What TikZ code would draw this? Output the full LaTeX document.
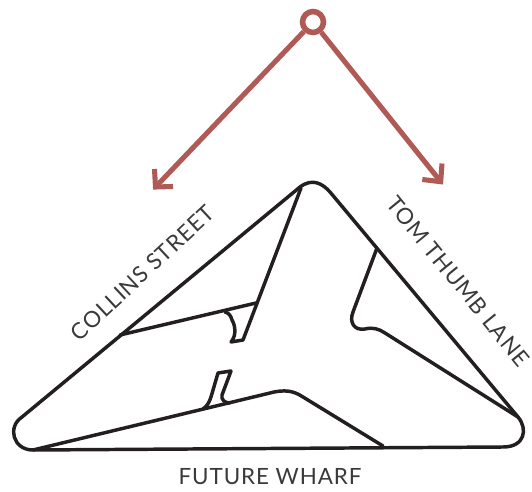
\documentclass[tikz,border=0pt]{standalone}
\usepackage{fontspec}
\setmainfont{Lato}[LetterSpace=4]
\definecolor{siteline}{HTML}{231F20}
\definecolor{windred}{HTML}{B05A56}
\definecolor{labelgrey}{HTML}{3A3A3C}
\tikzset{
  siteedge/.style={draw=siteline,line width=2.6pt,line join=round,line cap=round},
  windarrow/.style={draw=windred,line width=3.8pt,line join=miter},
  windhub/.style={circle,draw=windred,line width=4.2pt,fill=white,minimum size=15.7pt,inner sep=0pt},
  streetlabel/.style={text=labelgrey,font=\fontsize{16.8pt}{20pt}\selectfont,inner sep=0pt},
}
\begin{document}
\begin{tikzpicture}[x=0.75pt,y=0.75pt,yscale=-1,xscale=1]
\useasboundingbox (0,0) rectangle (532,492);
% wind directions
\node [windhub] (hub) at (313,22) {};
\coordinate (windleft) at (155.5,187);
\coordinate (windright) at (440.7,181.7);
\draw [windarrow] (hub) -- (windleft);
\draw [windarrow] (hub) -- (windright);
\draw [windarrow] (154.5,169) -- (windleft) -- (173,186.5);
\draw [windarrow] (442,163.5) -- (windright) -- (422.3,179.5);
% site outline
\draw [siteedge] (300,187) .. controls (312,178) and (322,183) .. (330,192) -- (518,417) .. controls (528,429) and (525,447) .. (503,447) -- (33,450) .. controls (13,450) and (7,427) .. (22,417) -- cycle;
% left lot
\draw [siteedge] (301,188) -- (243,340) -- (231,342) .. controls (237,335) and (235,325) .. (232,320) .. controls (231,316) and (229,313) .. (225,312);
\draw [siteedge] (120,335) -- (256,303);
% right lot
\draw [siteedge] (377,248) -- (353,312) .. controls (349,322) and (354,331) .. (365,329) .. controls (373,327) and (379,329) .. (385,333) -- (518,417);
% lower lot
\draw [siteedge] (33,450) -- (270,393) .. controls (285,389) and (294,391) .. (303,397) -- (383,446);
\draw [siteedge] (203,409) .. controls (207,406) and (209,403) .. (211,397) -- (218,373) -- (231,371) -- (222,395) .. controls (221,399) and (224,403) .. (230,403);
% street names
\node [streetlabel,rotate=43] (collins) at (142.5,273) {COLLINS STREET};
\node [streetlabel,rotate=-50.8] (tomthumb) at (458,281) {TOM THUMB LANE};
\node [streetlabel] (wharf) at (270,477) {FUTURE WHARF};
\end{tikzpicture}
\end{document}
